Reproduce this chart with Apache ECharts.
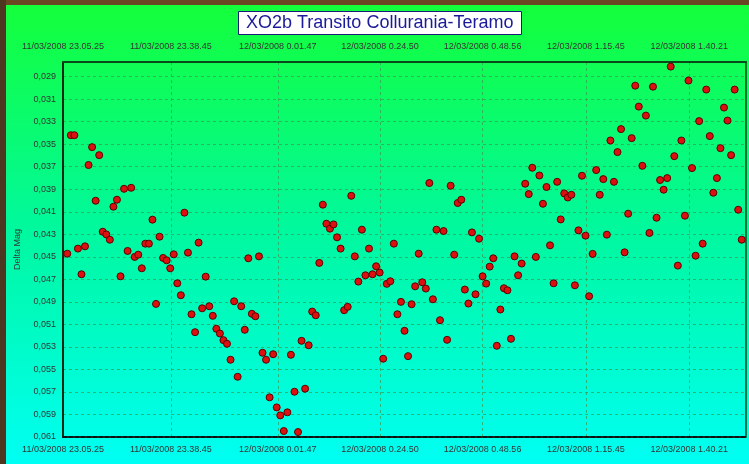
<!DOCTYPE html>
<html><head><meta charset="utf-8">
<script src="https://cdn.jsdelivr.net/npm/echarts@6/dist/echarts.min.js"></script>
<style>html,body{margin:0;padding:0;background:#5a3c1e}#c{width:749px;height:464px}</style>
</head><body><div id="c"></div>
<script>
const titleText = 'XO2b Transito Collurania-Teramo';
const yAxisName = 'Delta Mag';
const xTickLabels = ['11/03/2008 23.05.25','11/03/2008 23.38.45','12/03/2008 0.01.47','12/03/2008 0.24.50','12/03/2008 0.48.56','12/03/2008 1.15.45','12/03/2008 1.40.21'];
const xTickIndex = [-1.2, 29.2, 59.3, 88.1, 117, 146.1, 175.2];
const yTicks = [0.029,0.031,0.033,0.035,0.037,0.039,0.041,0.043,0.045,0.047,0.049,0.051,0.053,0.055,0.057,0.059,0.061];
const deltaMag = [
0.04472,0.03420,0.03420,0.04427,0.04655,0.04407,0.03685,0.03526,0.04002,0.03597,
0.04277,0.04301,0.04348,0.04055,0.03993,0.04673,0.03896,0.04448,0.03887,0.04501,
0.04481,0.04602,0.04383,0.04383,0.04170,0.04918,0.04321,0.04510,0.04531,0.04602,
0.04478,0.04735,0.04841,0.04108,0.04463,0.05010,0.05169,0.04374,0.04957,0.04676,
0.04939,0.05024,0.05139,0.05181,0.05240,0.05272,0.05414,0.04895,0.05565,0.04939,
0.05148,0.04513,0.05006,0.05028,0.04496,0.05352,0.05414,0.05748,0.05365,0.05837,
0.05908,0.06047,0.05881,0.05370,0.05698,0.06056,0.05246,0.05671,0.05285,0.04986,
0.05019,0.04554,0.04037,0.04206,0.04250,0.04212,0.04327,0.04427,0.04974,0.04944,
0.03958,0.04496,0.04720,0.04259,0.04664,0.04427,0.04655,0.04584,0.04640,0.05405,
0.04740,0.04717,0.04383,0.05010,0.04900,0.05157,0.05382,0.04921,0.04762,0.04472,
0.04726,0.04782,0.03845,0.04877,0.04259,0.05063,0.04271,0.05237,0.03869,0.04481,
0.04022,0.03993,0.04791,0.04915,0.04283,0.04833,0.04339,0.04673,0.04738,0.04587,
0.04513,0.05290,0.04968,0.04779,0.04797,0.05228,0.04496,0.04664,0.04560,0.03851,
0.03943,0.03709,0.04501,0.03778,0.04029,0.03880,0.04398,0.04735,0.03834,0.04168,
0.03937,0.03973,0.03949,0.04753,0.04265,0.03780,0.04312,0.04850,0.04474,0.03730,
0.03949,0.03810,0.04303,0.03467,0.03834,0.03570,0.03366,0.04460,0.04117,0.03446,
0.02980,0.03166,0.03692,0.03246,0.04288,0.02989,0.04153,0.03818,0.03904,0.03801,
0.02811,0.03606,0.04578,0.03467,0.04135,0.02935,0.03712,0.04490,0.03295,0.04383,
0.03015,0.03428,0.03931,0.03801,0.03535,0.03175,0.03290,0.03597,0.03015,0.04082,
0.04348
];
</script>
<script>
const FONT = 'Liberation Sans, Arial, sans-serif';
const chart = echarts.init(document.getElementById('c'), null, {renderer: 'canvas'});
const pts = deltaMag.map((v, i) => [i, v]);
function xFmt(v) {
  for (let i = 0; i < xTickIndex.length; i++) if (Math.abs(xTickIndex[i] - v) < 0.01) return xTickLabels[i];
  return '';
}
const splitStyle = {show: true, lineStyle: {color: '#3f9a55', width: 1, type: [3, 3], opacity: 0.75}};
const xBase = {
  type: 'value', min: -1.2, max: 191.2,
  axisTick: {show: false, customValues: xTickIndex},
  axisLabel: {customValues: xTickIndex, formatter: xFmt, fontSize: 9, fontFamily: FONT, color: '#333', showMinLabel: true, showMaxLabel: true, hideOverlap: false}
};
chart.setOption({
  animation: false,
  backgroundColor: 'transparent',
  graphic: [
    {type: 'rect', z: -100, silent: true, shape: {x: 6, y: 5, width: 743, height: 459},
     style: {fill: new echarts.graphic.LinearGradient(0, 0, 0, 1, [
       {offset: 0, color: '#14ff3a'}, {offset: 0.5, color: '#00f8a0'}, {offset: 1, color: '#00fff4'}])}},
    {type: 'rect', z: -100, silent: true, shape: {x: 0, y: 0, width: 749, height: 5}, style: {fill: '#6b4622'}},
    {type: 'rect', z: -100, silent: true, shape: {x: 0, y: 0, width: 6, height: 464}, style: {fill: '#4e3720'}}
  ],
  title: {
    text: titleText, left: 238, top: 11,
    backgroundColor: '#ffffff', borderColor: '#1a1a7a', borderWidth: 1, padding: [3, 8],
    textStyle: {fontFamily: FONT, fontSize: 18, fontWeight: 'normal', color: '#1a1a9a', lineHeight: 18}
  },
  grid: {left: 63, top: 62, right: 3, bottom: 27, show: true, borderColor: '#0a4a1a', borderWidth: 1.5, backgroundColor: 'transparent'},
  xAxis: [
    Object.assign({}, xBase, {
      position: 'bottom',
      axisLine: {show: true, onZero: false, lineStyle: {color: '#111', width: 2, type: [4, 2]}},
      splitLine: splitStyle,
      axisLabel: Object.assign({}, xBase.axisLabel, {margin: 8})
    }),
    Object.assign({}, xBase, {
      position: 'top',
      axisLine: {show: true, onZero: false, lineStyle: {color: '#0a4a1a', width: 2}},
      splitLine: {show: false},
      axisLabel: Object.assign({}, xBase.axisLabel, {margin: 11})
    })
  ],
  yAxis: {
    type: 'value', inverse: true, min: 0.0277, max: 0.061,
    name: yAxisName, nameLocation: 'middle', nameGap: 41,
    nameTextStyle: {fontSize: 9, fontFamily: FONT, color: '#333'},
    axisLine: {show: true, onZero: false, lineStyle: {color: '#0d2a12', width: 2}},
    axisTick: {show: false, customValues: yTicks},
    axisLabel: {customValues: yTicks, fontSize: 9, fontFamily: FONT, color: '#333', margin: 7,
      formatter: v => v.toFixed(3).replace('.', ',')},
    splitLine: splitStyle
  },
  series: [{
    type: 'scatter', xAxisIndex: 0, data: pts, symbol: 'circle', symbolSize: 7,
    itemStyle: {color: '#dd1010', borderColor: '#5a0000', borderWidth: 1, opacity: 1}
  }]
});
</script>
</body></html>
